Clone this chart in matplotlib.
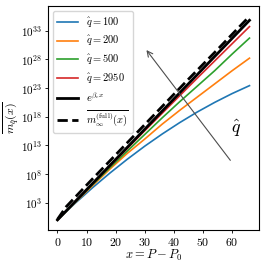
import matplotlib
matplotlib.use("Agg")
import matplotlib.pyplot as plt
import numpy as np

plt.rcParams['font.family'] = 'serif'
plt.rcParams['font.serif'] = ['cmr10', 'DejaVu Serif']
plt.rcParams['mathtext.fontset'] = 'cm'
plt.rcParams['axes.formatter.use_mathtext'] = True
plt.rcParams['axes.unicode_minus'] = False

x_pts = [0, 6, 12, 18, 24, 30, 36, 42, 48, 54, 60, 66]

# log10 of the curves
log_q100 = [0.0, 2.87, 5.59, 8.16, 10.58, 12.86, 14.98, 16.96, 18.80, 20.48, 22.02, 23.41]
log_q200 = [0.0, 3.0, 5.95, 8.85, 11.6, 14.1, 16.7, 19.1, 21.4, 23.7, 26.0, 28.2]
log_q500 = [0.0, 3.05, 6.1, 9.1, 12.0, 14.9, 17.8, 20.6, 23.3, 26.0, 28.9, 31.7]
log_q2950 = [0.0, 3.12, 6.24, 9.35, 12.45, 15.55, 18.6, 21.65, 24.7, 27.7, 30.7, 33.7]

x_beta = [0, 66]
log_beta = [0.0, 34.8]

x_full = [0, 3, 11, 22, 33, 44, 55, 66]
log_full = [0.1, 2.3, 6.6, 12.4, 18.2, 24.0, 29.7, 35.5]

q_labels = [r'$\hat{q}=100$', r'$\hat{q}=200$', r'$\hat{q}=500$', r'$\hat{q}=2950$']
q_series = [log_q100, log_q200, log_q500, log_q2950]
colors = ['tab:blue', 'tab:orange', 'tab:green', 'tab:red']

fig = plt.figure(figsize=(2.66, 2.66), dpi=100)
ax = fig.add_axes([0.18, 0.135, 0.794, 0.842])

for vals, lab, c in zip(q_series, q_labels, colors):
    ax.plot(x_pts, 10.0 ** np.array(vals), color=c, lw=1.2, label=lab)
ax.plot(x_beta, 10.0 ** np.array(log_beta), color='black', lw=2, label=r'$e^{\beta_c x}$')
ax.plot(x_full, 10.0 ** np.array(log_full), color='black', lw=2, ls='--',
        label=r'$\overline{m_\infty^{(\mathrm{full})}(x)}$')

ax.set_yscale('log')
ax.set_yticks([1e3, 1e8, 1e13, 1e18, 1e23, 1e28, 1e33])
ax.yaxis.set_minor_locator(matplotlib.ticker.NullLocator())
ax.set_xticks([0, 10, 20, 30, 40, 50, 60])
ax.tick_params(labelsize=8, length=2.5, width=0.6, pad=1.5)
ax.tick_params(axis='x', labelsize=8.5)

ax.annotate('', xy=(30, 1e30), xytext=(60, 1e10),
            arrowprops=dict(arrowstyle='->', color='0.3', lw=0.8))
ax.text(61.5, 1e16, r'$\hat{q}$', fontsize=13, ha='center', va='center')

ax.set_xlabel(r'$x = P - P_0$', fontsize=9, labelpad=0)
ax.set_ylabel(r'$\overline{m_{\hat{q}}(x)}$', fontsize=8.5)
ax.yaxis.set_label_coords(-0.128, 0.5)
ax.legend(loc='upper left', fontsize=7.5, handlelength=2, borderpad=0.4,
          labelspacing=0.45, framealpha=0.8)

fig.savefig('out.png', dpi=100)
